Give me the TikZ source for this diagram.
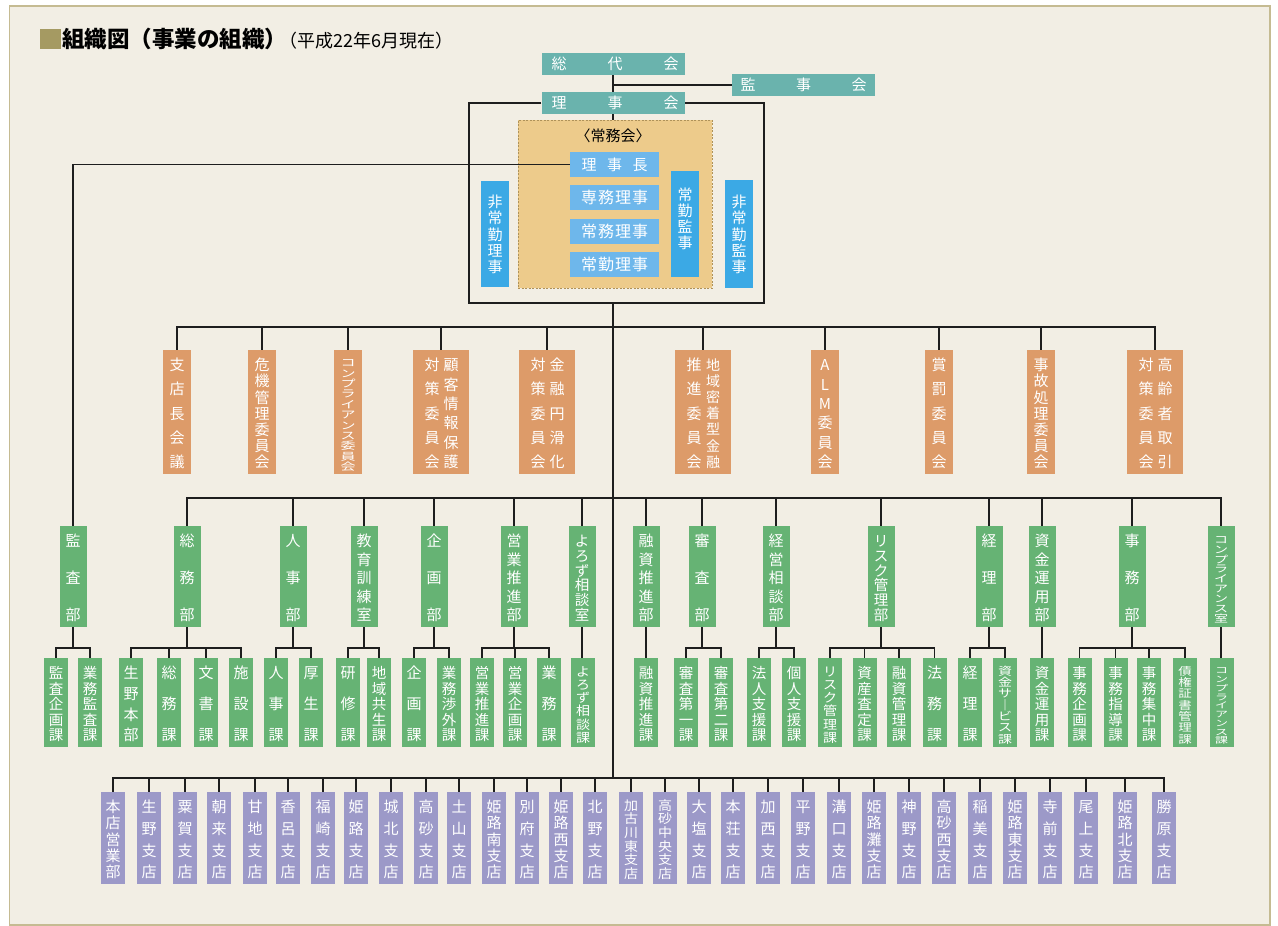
\documentclass[tikz,border=0pt]{standalone}
\usepackage{fontspec}
\newfontfamily\jp{Noto Sans CJK JP}
\definecolor{cBg}{HTML}{F2EEE4}
\definecolor{cFrame}{HTML}{C5BB92}
\definecolor{cTeal}{HTML}{6AB3AD}
\definecolor{cJomu}{HTML}{EDCB8B}
\definecolor{cDash}{HTML}{AF9259}
\definecolor{cLBlue}{HTML}{6EB7EB}
\definecolor{cBlue}{HTML}{3BA9E5}
\definecolor{cOrange}{HTML}{DD9B69}
\definecolor{cGreen}{HTML}{66B374}
\definecolor{cPurple}{HTML}{9C99C8}
\definecolor{cSquare}{HTML}{A59A62}
\definecolor{cLine}{HTML}{1E1E1E}
\def\padT{15}
\def\padB{12}
\newcommand\chwrap[1]{#1}
\newcommand\squash[1]{\renewcommand\chwrap[1]{\scalebox{1}[#1]{##1}}}
% vertical justified characters: opts, x, y-first, y-last, list
\newcommand\VT[5][]{%
  \foreach \chr [count=\ii] in {#5} {\xdef\nn{\ii}}%
  \foreach \chr [count=\ii] in {#5} {\node[ch,#1] at ({#2},{(#3)+(\ii-1)*((#4)-(#3))/max(\nn-1,1)}) {\chwrap{\chr}};}%
}
% horizontal justified characters: opts, y, x-first, x-last, list
\newcommand\HT[5][]{%
  \foreach \chr [count=\ii] in {#5} {\xdef\nn{\ii}}%
  \foreach \chr [count=\ii] in {#5} {\node[ch,#1] at ({(#3)+(\ii-1)*((#4)-(#3))/max(\nn-1,1)},{#2}) {\chr};}%
}
% vertical box: opts, style, name, x, ytop, ybot, list
\newcommand\VB[7][]{%
  \node[#2, minimum height={((#6)-(#5))*1pt}] (#3) at ({#4},{((#5)+(#6))/2}) {};%
  \VT[#1]{#4}{(#5)+\padT}{(#6)-\padB}{#7}%
}
% bus: y, first, last, parent
\newcommand\BUS[4]{%
  \draw[ln] (#2.north) -- (#2.north |- 0,#1) -- (#3.north |- 0,#1) -- (#3.north);%
  \draw[ln] (#4.south) -- (#4.south |- 0,#1);%
}
\newcommand\TICK[2]{\draw[ln] (#2.north) -- (#2.north |- 0,#1);}
\begin{document}
\begin{tikzpicture}[x=1pt,y=-1pt,
  ln/.style={line width=1.8pt, draw=cLine},
  fs/.style={font=\jp\fontsize{#1}{#1}\selectfont, text height={0.88*#1pt}, text depth={0.12*#1pt}},
  ch/.style={text=white, inner sep=0pt, fs=15},
  tealbox/.style={fill=cTeal, inner sep=0pt, minimum width=143pt, minimum height=22pt},
  lbbox/.style={fill=cLBlue, inner sep=0pt, minimum width=89pt, minimum height=25pt},
  bbox/.style={fill=cBlue, inner sep=0pt, minimum width=28pt},
  obox/.style={fill=cOrange, inner sep=0pt, minimum width=28pt},
  owbox/.style={fill=cOrange, inner sep=0pt, minimum width=56pt},
  gbox/.style={fill=cGreen, inner sep=0pt, minimum width=27pt},
  sbox/.style={fill=cGreen, inner sep=0pt, minimum width=24pt},
  pbox/.style={fill=cPurple, inner sep=0pt, minimum width=24pt}]
\useasboundingbox (0,0) rectangle (1278,926);
\fill[white] (0,0) rectangle (1278,926);
\filldraw[fill=cBg, draw=cFrame, line width=1.5pt] (9.5,6) rectangle (1270,925);
% title
\node[fill=cSquare, inner sep=0pt, minimum width=21pt, minimum height=20pt] (sq) at (50.5,39) {};
\node[anchor=west, inner sep=0pt, text=black, font=\jp\bfseries\fontsize{22.5}{22.5}\selectfont, text height={0.88*22.5pt}, text depth={0.12*22.5pt}] (title) at (62,39) {組織図（事業の組織）};
\node[anchor=base west, inner sep=0pt, text=black, font=\jp\fontsize{18}{18}\selectfont] (sub) at ([xshift=-8pt]title.base east) {（平成22年6月現在）};
% top
\node[tealbox] (sodai) at (613,64) {};
\HT{64}{559}{671}{総,代,会}
\node[tealbox] (kanjikai) at (803.5,85) {};
\HT{85}{748}{859}{監,事,会}
\node[tealbox] (rijikai) at (613,103) {};
\HT{103}{559}{671}{理,事,会}
\node[fill=cJomu, draw=cDash, dash pattern=on 2pt off 1.5pt, line width=0.9pt, inner sep=0pt, minimum width=194pt, minimum height=168pt] (jomu) at (615,204) {};
\node[inner sep=0pt, text=black, fs=15] (jomulabel) at (613,136) {〈常務会〉};
\node[lbbox] (richo) at (614.5,164.5) {};
\HT{164.5}{589}{640}{理,事,長}
\node[lbbox] (senmu) at (614.5,197.5) {};
\HT[fs=16]{197.5}{589}{640}{専,務,理,事}
\node[lbbox] (jomuriji) at (614.5,231.5) {};
\HT[fs=16]{231.5}{589}{640}{常,務,理,事}
\node[lbbox] (jokinriji) at (614.5,264.5) {};
\HT[fs=16]{264.5}{589}{640}{常,勤,理,事}
\node[bbox, minimum height=106pt] (jokinkanji) at (685,224) {};
\VT{685}{195}{243}{常,勤,監,事}
\node[bbox, minimum height=106pt] (hijokinriji) at (495,234) {};
\VT{495}{202}{267}{非,常,勤,理,事}
\node[bbox, minimum height=108pt] (hijokinkanji) at (739,234) {};
\VT{739}{202}{267}{非,常,勤,監,事}
\coordinate (rbl) at (469,303);
\coordinate (rbr) at (764,303);
\coordinate (trTop) at (613,303);
\coordinate (trBot) at (613,778);
% committees
\VB{obox}{c1}{177}{350}{474}{支,店,長,会,議}
\VB{obox}{c2}{262}{350}{474}{危,機,管,理,委,員,会}
{\def\padT{11}\def\padB{9}\squash{0.68}\VB[fs=15]{obox}{c3}{348}{350}{474}{コ,ン,プ,ラ,イ,ア,ン,ス,委,員,会}}
\node[owbox, minimum height=124pt] (c4) at (441,412) {};
\VT{451}{365}{462}{顧,客,情,報,保,護}
\VT{432}{365}{462}{対,策,委,員,会}
\node[owbox, minimum height=124pt] (c5) at (547,412) {};
\VT{557}{365}{462}{金,融,円,滑,化}
\VT{538}{365}{462}{対,策,委,員,会}
\node[owbox, minimum height=124pt] (c6) at (703,412) {};
\VT[fs=14]{713}{365}{462}{地,域,密,着,型,金,融}
\VT{694}{365}{462}{推,進,委,員,会}
\VB{obox}{c7}{825}{350}{474}{A,L,M,委,員,会}
\VB{obox}{c8}{939}{350}{474}{賞,罰,委,員,会}
\VB{obox}{c9}{1041}{350}{474}{事,故,処,理,委,員,会}
\node[owbox, minimum height=124pt] (c10) at (1155,412) {};
\VT{1165}{365}{462}{高,齢,者,取,引}
\VT{1146}{365}{462}{対,策,委,員,会}
% departments
\VB{gbox}{kansa}{73}{526}{627}{監,査,部}
\VB{gbox}{somu}{187}{526}{627}{総,務,部}
\VB{gbox}{jinji}{293}{526}{627}{人,事,部}
\VB{gbox}{kyoiku}{364}{526}{627}{教,育,訓,練,室}
\VB{gbox}{kikaku}{434}{526}{627}{企,画,部}
\VB{gbox}{eigyo}{514}{526}{627}{営,業,推,進,部}
\VB[fs=14.5]{gbox}{yorozu}{582}{526}{627}{よ,ろ,ず,相,談,室}
\VB{gbox}{yushi}{646}{526}{627}{融,資,推,進,部}
\VB{gbox}{shinsa}{702}{526}{627}{審,査,部}
\VB{gbox}{keiei}{776}{526}{627}{経,営,相,談,部}
\VB[fs=14.5]{gbox}{risk}{881}{526}{627}{リ,ス,ク,管,理,部}
\VB{gbox}{keiri}{989}{526}{627}{経,理,部}
\VB{gbox}{shikin}{1042}{526}{627}{資,金,運,用,部}
\VB{gbox}{jimu}{1132}{526}{627}{事,務,部}
{\def\padT{12}\def\padB{10}\squash{0.72}\VB[fs=14]{gbox}{compd}{1221}{526}{627}{コ,ン,プ,ラ,イ,ア,ン,ス,室}}
% sections
\VB[fs=14.5]{sbox}{s1}{56}{658}{747}{監,査,企,画,課}
\VB[fs=14.5]{sbox}{s2}{90}{658}{747}{業,務,監,査,課}
\VB{sbox}{s3}{131}{658}{747}{生,野,本,部}
\VB{sbox}{s4}{169}{658}{747}{総,務,課}
\VB{sbox}{s5}{206}{658}{747}{文,書,課}
\VB{sbox}{s6}{241}{658}{747}{施,設,課}
\VB{sbox}{s7}{276}{658}{747}{人,事,課}
\VB{sbox}{s8}{311}{658}{747}{厚,生,課}
\VB{sbox}{s9}{348}{658}{747}{研,修,課}
\VB[fs=14.5]{sbox}{s10}{379}{658}{747}{地,域,共,生,課}
\VB{sbox}{s11}{414}{658}{747}{企,画,課}
\VB[fs=14.5]{sbox}{s12}{449}{658}{747}{業,務,渉,外,課}
\VB[fs=14.5]{sbox}{s13}{482}{658}{747}{営,業,推,進,課}
\VB[fs=14.5]{sbox}{s14}{515}{658}{747}{営,業,企,画,課}
\VB{sbox}{s15}{549}{658}{747}{業,務,課}
{\def\padT{13}\def\padB{10}\squash{0.9}\VB[fs=14]{sbox}{s16}{583}{658}{747}{よ,ろ,ず,相,談,課}}
\VB[fs=14.5]{sbox}{s17}{646}{658}{747}{融,資,推,進,課}
\VB[fs=14.5]{sbox}{s18}{686}{658}{747}{審,査,第,一,課}
\VB[fs=14.5]{sbox}{s19}{721}{658}{747}{審,査,第,二,課}
\VB[fs=14.5]{sbox}{s20}{759}{658}{747}{法,人,支,援,課}
\VB[fs=14.5]{sbox}{s21}{794}{658}{747}{個,人,支,援,課}
{\def\padT{13}\def\padB{10}\squash{0.9}\VB[fs=14]{sbox}{s22}{830}{658}{747}{リ,ス,ク,管,理,課}}
\VB[fs=14.5]{sbox}{s23}{864.5}{658}{747}{資,産,査,定,課}
\VB[fs=14.5]{sbox}{s24}{899}{658}{747}{融,資,管,理,課}
\VB{sbox}{s25}{934.5}{658}{747}{法,務,課}
\VB{sbox}{s26}{970}{658}{747}{経,理,課}
{\def\padT{12}\def\padB{9}\squash{0.8}\VB[fs=14]{sbox}{s27}{1005}{658}{747}{資,金,サ,｜,ビ,ス,課}}
\VB[fs=14.5]{sbox}{s28}{1042}{658}{747}{資,金,運,用,課}
\VB[fs=14.5]{sbox}{s29}{1079.5}{658}{747}{事,務,企,画,課}
\VB[fs=14.5]{sbox}{s30}{1115.5}{658}{747}{事,務,指,導,課}
\VB[fs=14.5]{sbox}{s31}{1149}{658}{747}{事,務,集,中,課}
{\def\padT{12}\def\padB{9}\squash{0.8}\VB[fs=13.5]{sbox}{s32}{1185}{658}{747}{債,権,証,書,管,理,課}}
{\def\padT{11}\def\padB{8}\squash{0.66}\VB[fs=13]{sbox}{s33}{1221.5}{658}{747}{コ,ン,プ,ラ,イ,ア,ン,ス,課}}
% branches
\VB{pbox}{b1}{113}{792}{884}{本,店,営,業,部}
\VB{pbox}{b2}{149}{792}{884}{生,野,支,店}
\VB{pbox}{b3}{185}{792}{884}{粟,賀,支,店}
\VB{pbox}{b4}{219}{792}{884}{朝,来,支,店}
\VB{pbox}{b5}{255}{792}{884}{甘,地,支,店}
\VB{pbox}{b6}{288}{792}{884}{香,呂,支,店}
\VB{pbox}{b7}{323}{792}{884}{福,崎,支,店}
\VB{pbox}{b8}{356}{792}{884}{姫,路,支,店}
\VB{pbox}{b9}{391}{792}{884}{城,北,支,店}
\VB{pbox}{b10}{426}{792}{884}{高,砂,支,店}
\VB{pbox}{b11}{459}{792}{884}{土,山,支,店}
\VB{pbox}{b12}{494}{792}{884}{姫,路,南,支,店}
\VB{pbox}{b13}{527}{792}{884}{別,府,支,店}
\VB{pbox}{b14}{561}{792}{884}{姫,路,西,支,店}
\VB{pbox}{b15}{595}{792}{884}{北,野,支,店}
{\def\padT{13}\def\padB{11}\squash{0.92}\VB[fs=14]{pbox}{b16}{631}{792}{884}{加,古,川,東,支,店}}
{\def\padT{13}\def\padB{11}\squash{0.92}\VB[fs=14]{pbox}{b17}{665}{792}{884}{高,砂,中,央,支,店}}
\VB{pbox}{b18}{699}{792}{884}{大,塩,支,店}
\VB{pbox}{b19}{733}{792}{884}{本,荘,支,店}
\VB{pbox}{b20}{768}{792}{884}{加,西,支,店}
\VB{pbox}{b21}{803}{792}{884}{平,野,支,店}
\VB{pbox}{b22}{839}{792}{884}{溝,口,支,店}
\VB{pbox}{b23}{874}{792}{884}{姫,路,灘,支,店}
\VB{pbox}{b24}{909}{792}{884}{神,野,支,店}
\VB{pbox}{b25}{944}{792}{884}{高,砂,西,支,店}
\VB{pbox}{b26}{980}{792}{884}{稲,美,支,店}
\VB{pbox}{b27}{1015}{792}{884}{姫,路,東,支,店}
\VB{pbox}{b28}{1050}{792}{884}{寺,前,支,店}
\VB{pbox}{b29}{1086}{792}{884}{尾,上,支,店}
\VB{pbox}{b30}{1125}{792}{884}{姫,路,北,支,店}
\VB{pbox}{b31}{1164}{792}{884}{勝,原,支,店}
% connectors: top
\draw[ln] (sodai.south) -- (rijikai.north);
\draw[ln] (sodai.south |- kanjikai.west) -- (kanjikai.west);
\draw[ln] (rijikai.south) -- (rijikai.south |- jomu.north);
\draw[ln] (rijikai.west) -| (rbl) -- (rbr) |- (rijikai.east);
\draw[ln] (richo.west) -| (kansa.north);
\draw[ln] (trTop) -- (trBot);
% committees bus
\draw[ln] (c1.north) -- (c1.north |- 0,327) -- (c10.north |- 0,327) -- (c10.north);
\foreach \k in {c2,c3,c4,c5,c6,c7,c8,c9} {\TICK{327}{\k}}
% departments bus
\draw[ln] (somu.north) -- (somu.north |- 0,498) -- (compd.north |- 0,498) -- (compd.north);
\foreach \k in {jinji,kyoiku,kikaku,eigyo,yorozu,yushi,shinsa,keiei,risk,keiri,shikin,jimu} {\TICK{498}{\k}}
% sections
\BUS{648}{s1}{s2}{kansa}
\BUS{648}{s3}{s6}{somu}
\TICK{648}{s4}\TICK{648}{s5}
\BUS{648}{s7}{s8}{jinji}
\BUS{648}{s9}{s10}{kyoiku}
\BUS{648}{s11}{s12}{kikaku}
\BUS{648}{s13}{s15}{eigyo}
\TICK{648}{s14}
\draw[ln] (yorozu.south) -- (yorozu.south |- s16.north);
\draw[ln] (yushi.south) -- (yushi.south |- s17.north);
\BUS{648}{s18}{s19}{shinsa}
\BUS{648}{s20}{s21}{keiei}
\BUS{648}{s22}{s25}{risk}
\TICK{648}{s23}\TICK{648}{s24}
\BUS{648}{s26}{s27}{keiri}
\draw[ln] (shikin.south) -- (shikin.south |- s28.north);
\BUS{648}{s29}{s32}{jimu}
\TICK{648}{s30}\TICK{648}{s31}
\draw[ln] (compd.south) -- (compd.south |- s33.north);
% branches bus
\draw[ln] (b1.north) -- (b1.north |- trBot) -- (b31.north |- trBot) -- (b31.north);
\foreach \k in {b2,b3,b4,b5,b6,b7,b8,b9,b10,b11,b12,b13,b14,b15,b16,b17,b18,b19,b20,b21,b22,b23,b24,b25,b26,b27,b28,b29,b30} {\TICK{778}{\k}}
\end{tikzpicture}
\end{document}
